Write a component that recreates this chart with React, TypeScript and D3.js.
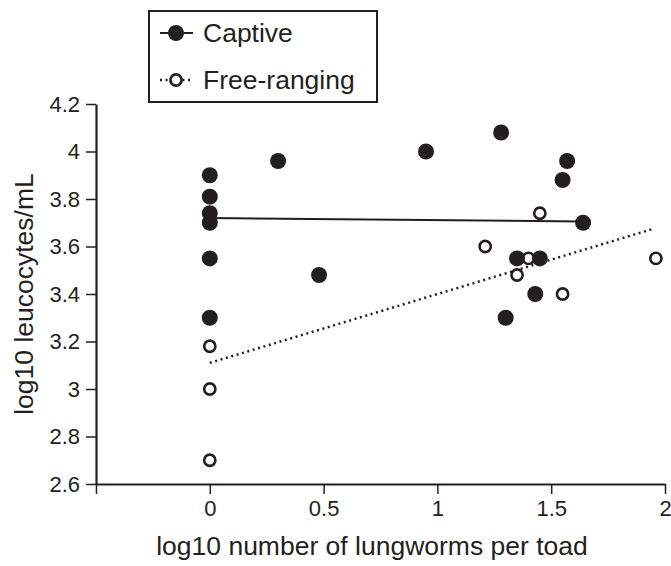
import React, { useEffect, useRef } from "react";
import * as d3 from "d3";

// captive toads (filled dots)
const captiveX = [0, 0, 0, 0, 0, 0, 0.3, 0.48, 0.95, 1.28, 1.3, 1.35, 1.43, 1.45, 1.55, 1.57, 1.64];
const captiveY = [3.9, 3.81, 3.74, 3.7, 3.55, 3.3, 3.96, 3.48, 4.0, 4.08, 3.3, 3.55, 3.4, 3.55, 3.88, 3.96, 3.7];
// free-ranging toads (open dots)
const freeX = [0, 0, 0, 1.21, 1.35, 1.4, 1.45, 1.55, 1.96];
const freeY = [3.18, 3.0, 2.7, 3.6, 3.48, 3.55, 3.74, 3.4, 3.55];
// regression lines [x0, x1], [y0, y1]
const captiveFitX = [0, 1.64];
const captiveFitY = [3.72, 3.705];
const freeFitX = [0, 1.95];
const freeFitY = [3.11, 3.675];

const xTicks = [-0.5, 0, 0.5, 1, 1.5, 2];
const yTicks = [2.6, 2.8, 3, 3.2, 3.4, 3.6, 3.8, 4, 4.2];
const legendLabels = ["Captive", "Free-ranging"];

const W = 671, H = 566;
const margin = { left: 96, top: 104, right: 6, bottom: 82 };
const ink = "#231f20";
const font = "'Liberation Sans', Arial, Helvetica, sans-serif";

function Axes({ x, y }) {
  const xRef = useRef(null);
  const yRef = useRef(null);
  useEffect(() => {
    const xa = d3.axisBottom(x).tickValues(xTicks).tickSize(10).tickSizeOuter(0).tickPadding(6)
      .tickFormat(d => (d < 0 ? "" : String(d)));
    const g = d3.select(xRef.current).call(xa);
    g.select(".domain").attr("stroke", ink).attr("stroke-width", 2.2);
    g.selectAll(".tick line").attr("stroke", ink).attr("stroke-width", 1.5);
    g.selectAll(".tick text").attr("fill", ink).attr("font-size", 22).attr("font-family", font);

    const ya = d3.axisLeft(y).tickValues(yTicks).tickSize(10).tickSizeOuter(0).tickPadding(6)
      .tickFormat(d => String(+(+d).toFixed(1)));
    const gy = d3.select(yRef.current).call(ya);
    gy.select(".domain").attr("stroke", ink).attr("stroke-width", 2.2);
    gy.selectAll(".tick line").attr("stroke", ink).attr("stroke-width", 1.5);
    gy.selectAll(".tick text").attr("fill", ink).attr("font-size", 22).attr("font-family", font);
  }, [x, y]);
  return (
    <g>
      <g ref={xRef} transform={`translate(0,${H - margin.bottom})`} />
      <g ref={yRef} transform={`translate(${margin.left},0)`} />
    </g>
  );
}

export default function App() {
  const x = d3.scaleLinear().domain([-0.5, 2]).range([margin.left, W - margin.right]);
  const y = d3.scaleLinear().domain([2.6, 4.2]).range([H - margin.bottom, margin.top]);
  const line = d3.line().x(d => x(d[0])).y(d => y(d[1]));
  const capFit = captiveFitX.map((v, i) => [v, captiveFitY[i]]);
  const freeFit = freeFitX.map((v, i) => [v, freeFitY[i]]);

  return (
    <svg width={W} height={H} style={{ position: "absolute", left: 0, top: 0, background: "#fff" }}>
      <Axes x={x} y={y} />
      <path d={line(capFit)} fill="none" stroke={ink} strokeWidth={2} />
      <path d={line(freeFit)} fill="none" stroke={ink} strokeWidth={2.5} strokeDasharray="2,3.6" />
      {freeX.map((v, i) => (
        <circle key={"f" + i} cx={x(v)} cy={y(freeY[i])} r={5.6} fill="#fff" stroke={ink} strokeWidth={2.6} />
      ))}
      {captiveX.map((v, i) => (
        <circle key={"c" + i} cx={x(v)} cy={y(captiveY[i])} r={8} fill={ink} />
      ))}

      {/* legend */}
      <rect x={149} y={11} width={228} height={91} fill="#fff" stroke={ink} strokeWidth={2} />
      <line x1={160} x2={193} y1={33} y2={33} stroke={ink} strokeWidth={2} />
      <circle cx={176} cy={33} r={8} fill={ink} />
      <line x1={160} x2={193} y1={80} y2={80} stroke={ink} strokeWidth={2.5} strokeDasharray="2,3.6" />
      <circle cx={176} cy={80} r={5.6} fill="#fff" stroke={ink} strokeWidth={2.6} />
      {legendLabels.map((t, i) => (
        <text key={t} x={203} y={42 + i * 47} fontSize={26.5} fontFamily={font} fill={ink}>{t}</text>
      ))}

      <text x={372} y={555} textAnchor="middle" fontSize={26.5} fontFamily={font} fill={ink}>
        log10 number of lungworms per toad
      </text>
      <text transform={`translate(33,${y(3.4)}) rotate(-90)`} textAnchor="middle" fontSize={26.5}
        fontFamily={font} fill={ink}>
        log10 leucocytes/mL
      </text>
    </svg>
  );
}
